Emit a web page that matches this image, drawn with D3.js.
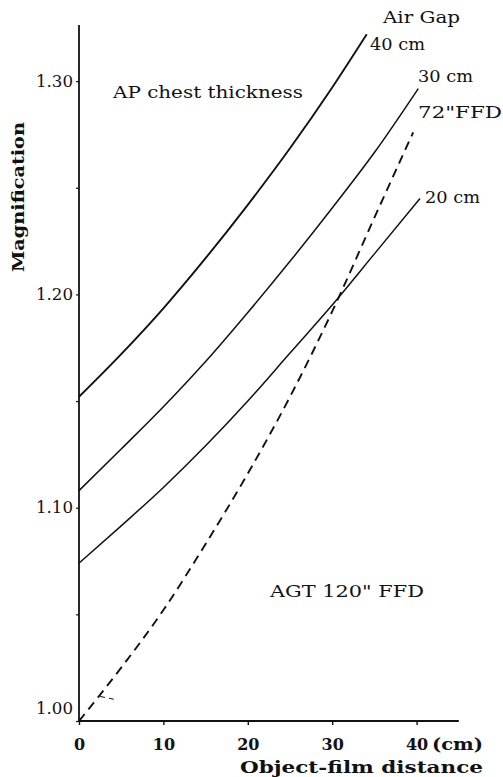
<!DOCTYPE html>
<html>
<head>
<meta charset="utf-8">
<script src="https://cdn.jsdelivr.net/npm/d3@7/dist/d3.min.js"></script>
<style>
  html, body { margin: 0; padding: 0; background: #fff; }
  svg text { font-family: "DejaVu Serif", "Liberation Serif", serif; fill: #111; }
</style>
</head>
<body>
<svg id="chart" width="503" height="777"></svg>
<script>
// Object-film distance (cm) and magnification for each air gap
const gap40X = [0, 5, 10, 15, 20, 25, 30, 34.1];
const gap40Y = [1.152, 1.172, 1.1935, 1.217, 1.242, 1.2685, 1.297, 1.322];

const gap30X = [0, 5, 10, 15, 20, 25, 30, 35, 40.2];
const gap30Y = [1.108, 1.1275, 1.1473, 1.1685, 1.1915, 1.2155, 1.2405, 1.2665, 1.2965];

const gap20X = [0, 5, 10, 15, 20, 25, 30, 35, 40.4];
const gap20Y = [1.074, 1.0915, 1.1095, 1.129, 1.150, 1.1725, 1.195, 1.219, 1.245];

// 72" focal-film distance, no air gap
const ffd72X = [0, 5, 10, 15, 20, 25, 30, 35, 39.6];
const ffd72Y = [1.000, 1.025, 1.052, 1.083, 1.116, 1.152, 1.192, 1.236, 1.276];

const stubX = [2.5, 4.6];
const stubY = [1.0115, 1.0098];

const xTicks = [0, 10, 20, 30, 40];
const yTicks = [1.00, 1.05, 1.10, 1.15, 1.20, 1.25, 1.30];
const yTickLabels = { "1.00": "1.00", "1.10": "1.10", "1.20": "1.20", "1.30": "1.30" };

const svg = d3.select("#chart");

const x = d3.scaleLinear().domain([0, 45]).range([79, 458.8]);
const y = d3.scaleLinear().domain([1.0, 1.3263]).range([721, 25]);

const ink = "#111";

// Axes
const xAxis = d3.axisBottom(x).tickValues(xTicks).tickSize(4).tickFormat(d3.format("d"));
const gx = svg.append("g").attr("transform", `translate(0,${y(1.0)})`).call(xAxis);
gx.select(".domain").attr("stroke", ink).attr("stroke-width", 1.8).attr("d", `M${x(0)},0H${x(45)}`);
gx.selectAll(".tick line").attr("stroke", ink).attr("stroke-width", 1.4);
gx.selectAll(".tick text")
  .attr("y", 18).attr("dy", "0.71em")
  .style("font-size", "16px").style("font-weight", "bold").attr("fill", ink);

const yAxis = d3.axisLeft(y).tickValues(yTicks).tickSize(3)
  .tickFormat(d => yTickLabels[d.toFixed(2)] || "");
const gy = svg.append("g").attr("transform", `translate(${x(0)},0)`).call(yAxis);
gy.select(".domain").attr("stroke", ink).attr("stroke-width", 1.8).attr("d", `M0,${y(1.0)}V${y(1.3263)}`);
gy.selectAll(".tick line").attr("stroke", ink).attr("stroke-width", 1.2);
gy.selectAll(".tick text")
  .attr("x", -6)
  .style("font-size", "16px").attr("fill", ink)
  .attr("textLength", 37).attr("lengthAdjust", "spacingAndGlyphs");
gy.selectAll(".tick").filter(d => d === 1.00).select("text").attr("dy", "-0.45em");

// Curves
const line = d3.line().x(d => x(d[0])).y(d => y(d[1])).curve(d3.curveMonotoneX);
const pts = (xs, ys) => xs.map((v, i) => [v, ys[i]]);

svg.append("path").datum(pts(gap40X, gap40Y)).attr("d", line)
  .attr("fill", "none").attr("stroke", ink).attr("stroke-width", 1.9);
svg.append("path").datum(pts(gap30X, gap30Y)).attr("d", line)
  .attr("fill", "none").attr("stroke", ink).attr("stroke-width", 1.5);
svg.append("path").datum(pts(gap20X, gap20Y)).attr("d", line)
  .attr("fill", "none").attr("stroke", ink).attr("stroke-width", 1.5);
svg.append("path").datum(pts(ffd72X, ffd72Y)).attr("d", line)
  .attr("fill", "none").attr("stroke", ink).attr("stroke-width", 1.9)
  .attr("stroke-dasharray", "9,6");
svg.append("path").datum(pts(stubX, stubY)).attr("d", line)
  .attr("fill", "none").attr("stroke", ink).attr("stroke-width", 1)
  .attr("stroke-dasharray", "5,4");

// Annotations
function label(txt, px, py, size, width, opts = {}) {
  const t = svg.append("text").attr("x", px).attr("y", py)
    .style("font-size", size + "px").text(txt);
  if (width) t.attr("textLength", width).attr("lengthAdjust", "spacingAndGlyphs");
  if (opts.bold) t.style("font-weight", "bold");
  if (opts.rotate) t.attr("transform", `rotate(-90,${px},${py})`);
  return t;
}

label("Air Gap", 383, 23, 16, 77);
label("40 cm", 370, 50, 16, 55);
label("30 cm", 418, 82, 16, 55);
label("72\"FFD", 418, 118, 16, 84);
label("20 cm", 425, 203, 16, 55);
label("AP chest thickness", 113, 98, 17, 190);
label("AGT 120\" FFD", 270, 597, 17, 154);
label("(cm)", 432, 750, 16, 51, { bold: true });
label("Object-film distance", 240, 773, 16, 243, { bold: true });
label("Magnification", 24, 272, 16, 150, { bold: true, rotate: true });
</script>
</body>
</html>
